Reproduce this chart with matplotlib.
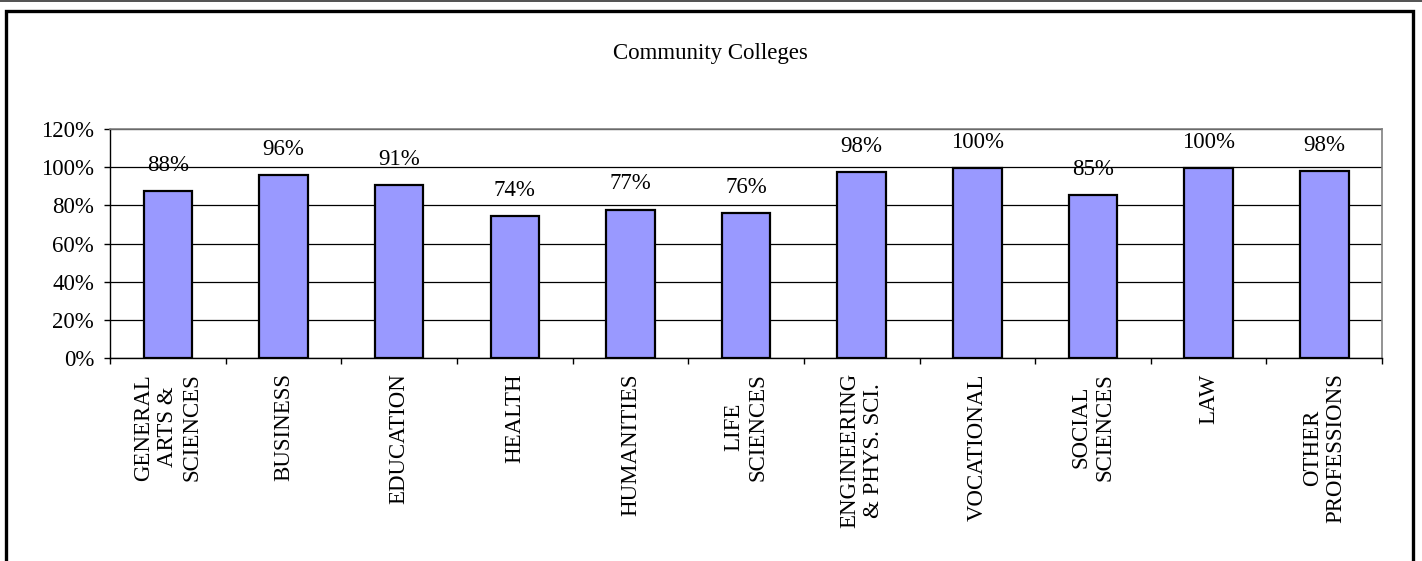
import numpy as np
import matplotlib
matplotlib.use("Agg")
import matplotlib.pyplot as plt
from matplotlib.patches import Rectangle
from matplotlib.lines import Line2D
from matplotlib.ticker import PercentFormatter, FixedLocator

plt.rcParams['font.family'] = ['Liberation Serif', 'DejaVu Serif']

categories = ["GENERAL\nARTS &\nSCIENCES", "BUSINESS", "EDUCATION", "HEALTH",
              "HUMANITIES", "LIFE\nSCIENCES", "ENGINEERING\n& PHYS. SCI.",
              "VOCATIONAL", "SOCIAL\nSCIENCES", "LAW", "OTHER\nPROFESSIONS"]
values = [0.875, 0.958, 0.906, 0.745, 0.778, 0.758, 0.974, 0.995, 0.852, 0.995, 0.98]
value_labels = ["88%", "96%", "91%", "74%", "77%", "76%", "98%", "100%", "85%", "100%", "98%"]

fig = plt.figure(figsize=(14.22, 5.61), dpi=100)
ax = fig.add_axes([0.0774, 0.3619, 0.8945, 0.4081])

fs = 16.5
x = np.arange(len(categories))
ax.bar(x, values, width=0.42, color="#9999FF", edgecolor="black", linewidth=1.6, zorder=3)

for xi, v, lab in zip(x, values, value_labels):
    ax.annotate(lab, (xi, v), xytext=(0, 11), textcoords="offset points",
                ha="center", va="bottom", fontsize=fs)

ax.set_xlim(-0.5, len(categories) - 0.5)
ax.set_ylim(0, 1.2)
ax.set_yticks(np.arange(0, 1.21, 0.2))
ax.yaxis.set_major_formatter(PercentFormatter(1.0, decimals=0))
ax.yaxis.grid(True, color="black", linewidth=0.9, zorder=0)
ax.set_axisbelow(True)

ax.set_xticks(x)
ax.set_xticklabels(categories, rotation=90, fontsize=fs, linespacing=1.18,
                   ha="center", va="top")
for lbl in ax.get_xticklabels():
    lbl.set_multialignment("center")
ax.xaxis.set_minor_locator(FixedLocator(np.arange(-0.5, len(categories), 1.0)))
ax.tick_params(axis="x", which="major", length=0, pad=11)
ax.tick_params(axis="x", which="minor", length=4.5, width=1, color="black")
ax.tick_params(axis="y", length=4.5, width=1, labelsize=fs, pad=7)

for s in ["top", "right"]:
    ax.spines[s].set_color("#808080")
    ax.spines[s].set_linewidth(1.2)
for s in ["left", "bottom"]:
    ax.spines[s].set_color("black")
    ax.spines[s].set_linewidth(1.0)

fig.text(0.4993, 0.905, "Community Colleges", ha="center", va="center", fontsize=fs)

# outer chart border
fig.add_artist(Rectangle((0.0039, -0.1), 0.9901, 1.0803, transform=fig.transFigure,
                         fill=False, edgecolor="black", linewidth=2.4))
fig.add_artist(Line2D([0, 1], [0.999, 0.999], transform=fig.transFigure,
                      color="#333333", linewidth=1.2))

fig.savefig("out.png", dpi=100)
